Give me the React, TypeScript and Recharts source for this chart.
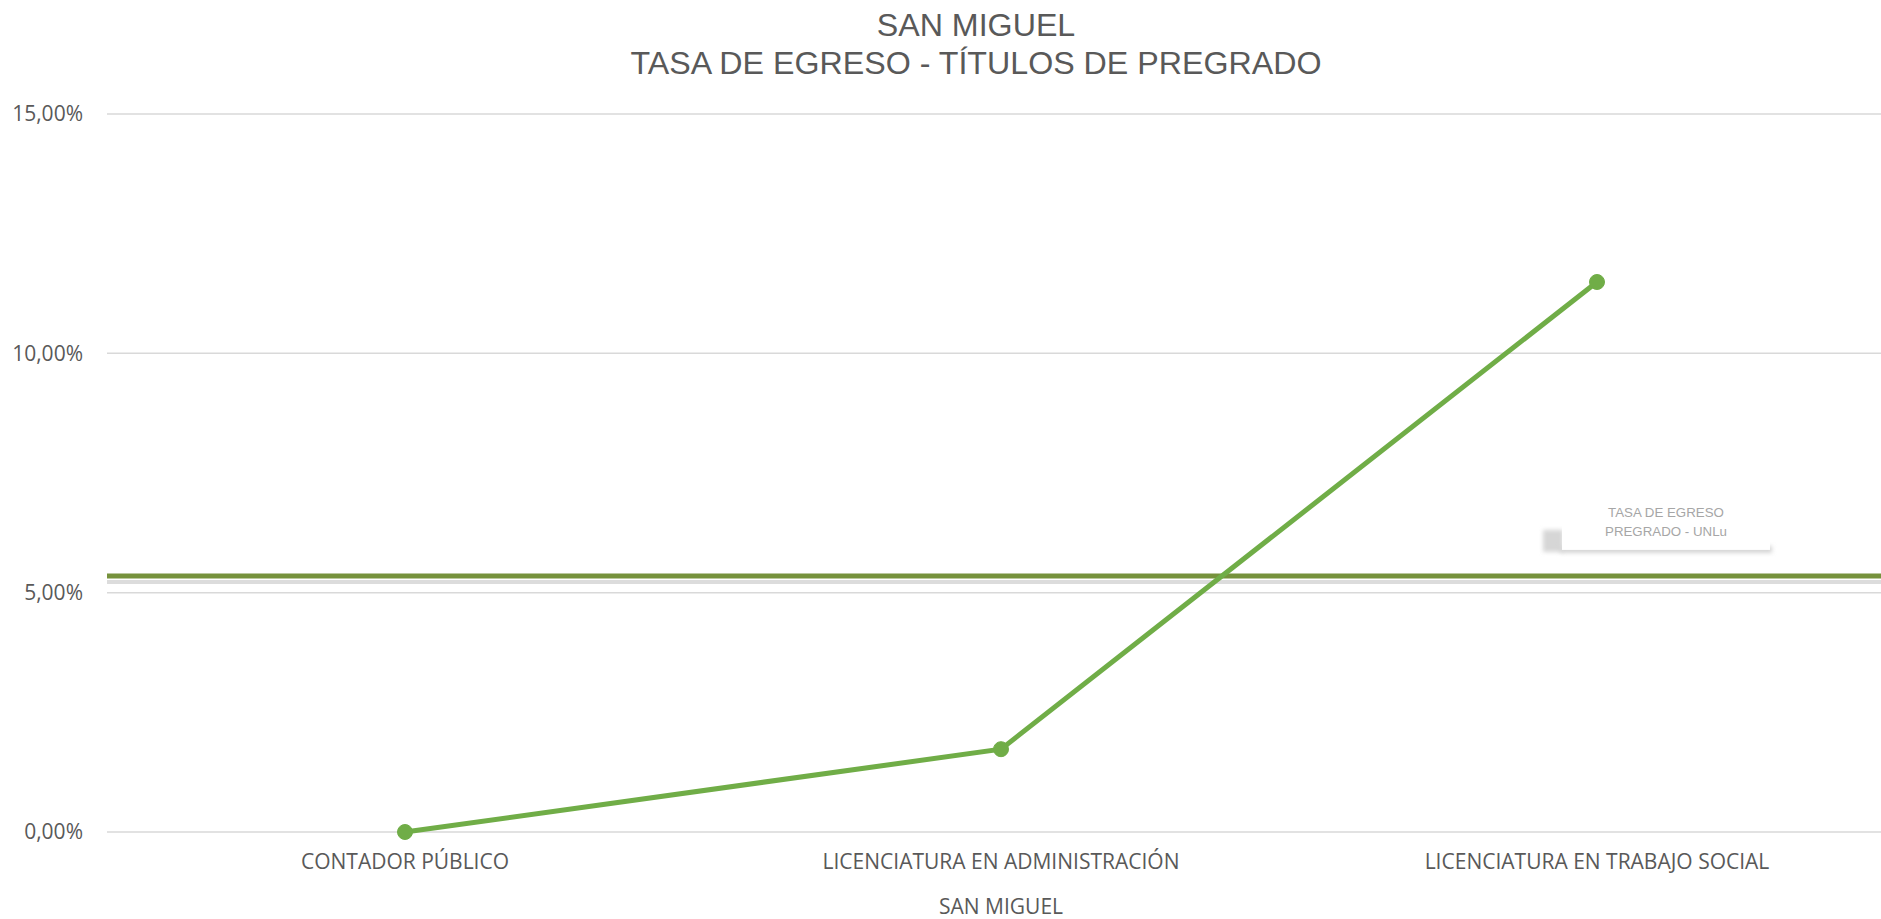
import { LineChart, Line, XAxis, YAxis, CartesianGrid, ReferenceLine } from "recharts";

const CATEGORIES = [
  "CONTADOR PÚBLICO",
  "LICENCIATURA EN ADMINISTRACIÓN",
  "LICENCIATURA EN TRABAJO SOCIAL",
];
const TASA_EGRESO = [0, 1.73, 11.49];
const TASA_UNLU = 5.35;
const Y_TICKS = [0, 5, 10, 15];

const data = CATEGORIES.map((name, i) => ({ name, tasa: TASA_EGRESO[i] }));

const fmtPct = (v: number) => `${v.toFixed(2).replace(".", ",")}%`;

const AXIS_FONT = "'Open Sans', sans-serif";

// green UNLu line with a light grey shadow under it
function UnluLine(p: any) {
  const { x1, x2, y1 } = p;
  return (
    <g>
      <line x1={x1} x2={x2} y1={y1 + 6} y2={y1 + 6} stroke="#dcdcdc" strokeWidth={4} />
      <line x1={x1} x2={x2} y1={y1} y2={y1} stroke="#76923c" strokeWidth={5} />
    </g>
  );
}

function UnluLabel(p: any) {
  const vb = p.viewBox || {};
  const right = vb.x + vb.width;
  const cx = right - 229;
  const y = vb.y;
  return (
    <g>
      <defs>
        <filter id="lblBlur" x="-20%" y="-50%" width="140%" height="200%">
          <feGaussianBlur stdDeviation="2" />
        </filter>
      </defs>
      <rect x={cx - 123} y={y - 46} width={20} height={22} fill="#d6d6d6" filter="url(#lblBlur)" />
      <rect x={cx - 106} y={y - 30} width={212} height={7} fill="#d4d4d4" filter="url(#lblBlur)" />
      <rect x={cx - 104} y={y - 84} width={208} height={58} fill="#ffffff" />
      <text
        x={cx}
        y={y - 63}
        textAnchor="middle"
        dominantBaseline="central"
        fontSize={13.3}
        fontFamily="'Liberation Sans', Arial, sans-serif"
        fill="#a6a6a6"
      >
        TASA DE EGRESO
      </text>
      <text
        x={cx}
        y={y - 44}
        textAnchor="middle"
        dominantBaseline="central"
        fontSize={13.3}
        fontFamily="'Liberation Sans', Arial, sans-serif"
        fill="#a6a6a6"
      >
        PREGRADO - UNLu
      </text>
    </g>
  );
}

export default function App() {
  return (
    <div
      style={{
        position: "absolute",
        left: 0,
        top: 0,
        width: 1881,
        height: 919,
        overflow: "hidden",
        background: "#ffffff",
      }}
    >
      <div
        style={{
          position: "absolute",
          left: 476,
          top: 6,
          width: 1000,
          textAlign: "center",
          fontFamily: "'Liberation Sans', Arial, sans-serif",
          fontSize: 32.2,
          lineHeight: "38px",
          color: "#595959",
          zIndex: 2,
        }}
      >
        SAN MIGUEL
        <br />
        TASA DE EGRESO - TÍTULOS DE PREGRADO
      </div>
      <LineChart
        width={1895}
        height={919}
        data={data}
        margin={{ top: 114, right: 0, bottom: 0, left: 0 }}
      >
        <CartesianGrid vertical={false} stroke="#d9d9d9" strokeWidth={1.5} />
        <XAxis
          dataKey="name"
          scale="band"
          height={87}
          axisLine={false}
          tickLine={false}
          tickSize={0}
          tickMargin={22}
          tick={{ fontSize: 21, fill: "#595959", fontFamily: AXIS_FONT }}
          label={{
            value: "SAN MIGUEL",
            position: "insideBottom",
            offset: 5,
            fontSize: 21,
            fill: "#595959",
            fontFamily: AXIS_FONT,
          }}
        />
        <YAxis
          domain={[0, 15]}
          ticks={Y_TICKS}
          width={107}
          axisLine={false}
          tickLine={false}
          tickSize={0}
          tickMargin={24}
          tickFormatter={fmtPct}
          tick={{ fontSize: 21, fill: "#595959", fontFamily: AXIS_FONT }}
        />
        <ReferenceLine
          y={TASA_UNLU}
          shape={UnluLine}
          label={<UnluLabel />}
          ifOverflow="visible"
        />
        <Line
          dataKey="tasa"
          stroke="#70ad47"
          strokeWidth={5}
          dot={{ r: 7.5, fill: "#70ad47", stroke: "#70ad47", strokeWidth: 1 }}
          activeDot={false}
          isAnimationActive={false}
        />
      </LineChart>
    </div>
  );
}
